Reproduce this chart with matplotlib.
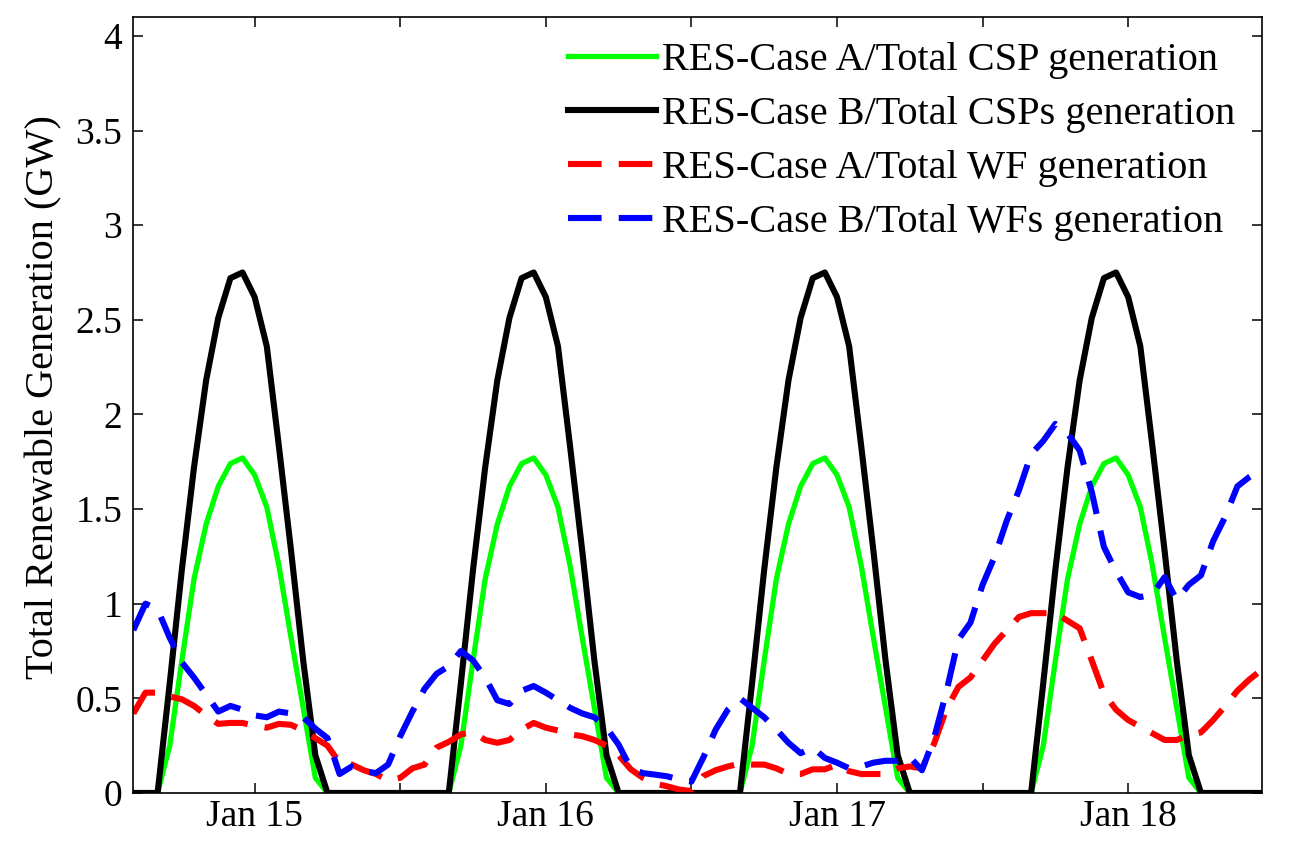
import matplotlib
matplotlib.use('Agg')
import matplotlib.pyplot as plt
import numpy as np

plt.rcParams['font.family'] = ['Liberation Serif', 'DejaVu Serif']

# hours relative to Jan 15 00:00, hourly samples
hours = np.arange(-10, 84)

# CSP generation (GW)
csp_a = [0, 0,
         0, 0.25, 0.70, 1.13, 1.42, 1.62, 1.74, 1.77, 1.68, 1.51, 1.20, 0.82, 0.45, 0.08, 0,
         0, 0, 0, 0, 0, 0, 0, 0, 0,
         0, 0.25, 0.70, 1.13, 1.42, 1.62, 1.74, 1.77, 1.68, 1.51, 1.20, 0.82, 0.45, 0.08, 0,
         0, 0, 0, 0, 0, 0, 0, 0, 0,
         0, 0.25, 0.70, 1.13, 1.42, 1.62, 1.74, 1.77, 1.68, 1.51, 1.20, 0.82, 0.45, 0.08, 0,
         0, 0, 0, 0, 0, 0, 0, 0, 0,
         0, 0.25, 0.70, 1.13, 1.42, 1.62, 1.74, 1.77, 1.68, 1.51, 1.20, 0.82, 0.45, 0.08, 0,
         0, 0, 0, 0, 0]
csp_b = [0, 0,
         0, 0.58, 1.18, 1.72, 2.18, 2.51, 2.72, 2.75, 2.62, 2.36, 1.83, 1.28, 0.70, 0.20, 0,
         0, 0, 0, 0, 0, 0, 0, 0, 0,
         0, 0.58, 1.18, 1.72, 2.18, 2.51, 2.72, 2.75, 2.62, 2.36, 1.83, 1.28, 0.70, 0.20, 0,
         0, 0, 0, 0, 0, 0, 0, 0, 0,
         0, 0.58, 1.18, 1.72, 2.18, 2.51, 2.72, 2.75, 2.62, 2.36, 1.83, 1.28, 0.70, 0.20, 0,
         0, 0, 0, 0, 0, 0, 0, 0, 0,
         0, 0.58, 1.18, 1.72, 2.18, 2.51, 2.72, 2.75, 2.62, 2.36, 1.83, 1.28, 0.70, 0.20, 0,
         0, 0, 0, 0, 0]

# wind farm generation (GW)
wf_a = [0.42, 0.53, 0.53, 0.51, 0.495, 0.46, 0.41, 0.365, 0.37, 0.37, 0.355, 0.345,
        0.365, 0.36, 0.33, 0.29, 0.25, 0.16, 0.15, 0.12, 0.10, 0.065, 0.08, 0.13,
        0.15, 0.24, 0.27, 0.31, 0.32, 0.28, 0.265, 0.28, 0.335, 0.37, 0.345, 0.33,
        0.31, 0.30, 0.28, 0.25, 0.20, 0.125, 0.08, 0.05, 0.035, 0.018, 0.01, 0.09,
        0.12, 0.14, 0.155, 0.15, 0.15, 0.13, 0.10, 0.10, 0.125, 0.125, 0.15, 0.115,
        0.10, 0.10, 0.10, 0.13, 0.14, 0.13, 0.26, 0.44, 0.56, 0.61, 0.70, 0.79,
        0.86, 0.93, 0.95, 0.95, 0.95, 0.91, 0.87, 0.70, 0.525, 0.44, 0.385, 0.35,
        0.315, 0.28, 0.28, 0.305, 0.32, 0.385, 0.46, 0.54, 0.60, 0.65]
wf_b = [0.86, 1.00, 0.97, 0.82, 0.69, 0.61, 0.52, 0.43, 0.46, 0.44, 0.41, 0.40,
        0.43, 0.42, 0.40, 0.34, 0.29, 0.10, 0.14, 0.115, 0.105, 0.15, 0.30, 0.43,
        0.55, 0.63, 0.67, 0.75, 0.70, 0.61, 0.49, 0.47, 0.54, 0.565, 0.53, 0.49,
        0.45, 0.42, 0.40, 0.345, 0.255, 0.13, 0.105, 0.097, 0.088, 0.07, 0.06, 0.19,
        0.335, 0.44, 0.50, 0.45, 0.40, 0.335, 0.265, 0.21, 0.24, 0.185, 0.16, 0.13,
        0.14, 0.16, 0.17, 0.17, 0.19, 0.12, 0.29, 0.53, 0.81, 0.90, 1.10, 1.25,
        1.44, 1.60, 1.79, 1.86, 1.95, 1.90, 1.81, 1.59, 1.30, 1.17, 1.06, 1.035,
        1.05, 1.14, 1.02, 1.10, 1.15, 1.33, 1.46, 1.62, 1.67, 1.71]

labels = ['RES-Case A/Total CSP generation',
          'RES-Case B/Total CSPs generation',
          'RES-Case A/Total WF generation',
          'RES-Case B/Total WFs generation']

tick_hours = [0, 12, 24, 36, 48, 60, 72]
tick_labels = ['Jan 15', '', 'Jan 16', '', 'Jan 17', '', 'Jan 18']
y_ticks = [0, 0.5, 1, 1.5, 2, 2.5, 3, 3.5, 4]
y_tick_labels = ['0', '0.5', '1', '1.5', '2', '2.5', '3', '3.5', '4']

fig = plt.figure(figsize=(12.92, 8.47), dpi=100)
ax = fig.add_axes([0.1032, 0.0638, 0.8733, 0.9162])

dash = (0, (5.5, 2.8))
ax.plot(hours, csp_a, color=(0, 1, 0), lw=3.8, label=labels[0])
ax.plot(hours, csp_b, color='k', lw=4.4, label=labels[1])
ax.plot(hours, wf_a, color=(1, 0, 0), lw=4.4, ls=dash, label=labels[2])
ax.plot(hours, wf_b, color=(0, 0, 1), lw=4.4, ls=dash, label=labels[3])

ax.set_xlim(-10, 83)
ax.set_ylim(0, 4.1)
ax.set_xticks(tick_hours)
ax.set_xticklabels(tick_labels)
ax.set_yticks(y_ticks)
ax.set_yticklabels(y_tick_labels)
ax.tick_params(direction='in', top=True, right=True, length=7, width=1.1,
               labelsize=27, colors='k')
ax.tick_params(axis='x', pad=5)
ax.tick_params(axis='y', pad=8)
for s in ax.spines.values():
    s.set_linewidth(1.2)

ax.set_ylabel('Total Renewable Generation (GW)', fontsize=29)
ax.yaxis.set_label_coords(-0.063, 0.51)

leg = ax.legend(loc='upper left', bbox_to_anchor=(0.385, 0.968), frameon=False,
                fontsize=29, handlelength=2.2, handletextpad=0.15,
                labelspacing=0.42, borderpad=0, borderaxespad=0)

fig.savefig('out.png', dpi=100)
